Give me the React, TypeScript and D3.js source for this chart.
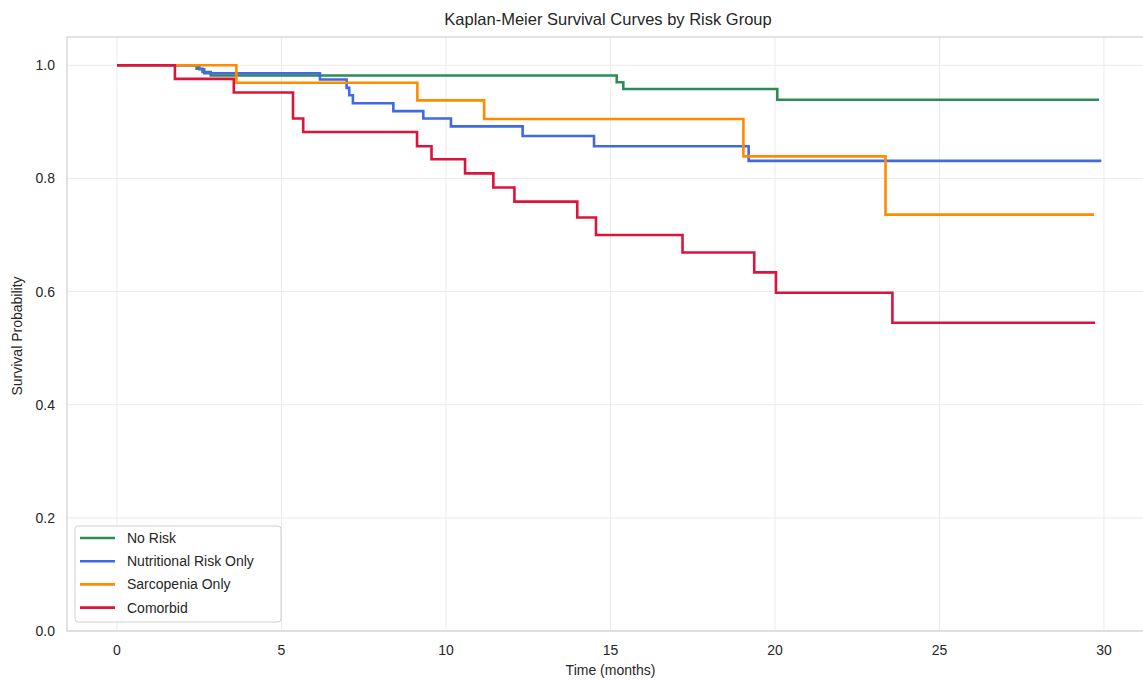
import { useEffect, useRef } from 'react'
import * as d3 from 'd3'

// Kaplan-Meier step data (time in months, survival probability)
const groupNames = ['No Risk', 'Nutritional Risk Only', 'Sarcopenia Only', 'Comorbid']
const groupColors = ['#2E8B57', '#4169E1', '#FF8C00', '#DC143C']

const noRiskTimes = [0, 2.42, 2.6, 2.85, 15.19, 15.39, 20.07, 29.85]
const noRiskSurv = [1, 0.994, 0.988, 0.982, 0.970, 0.958, 0.939, 0.939]

const nutritionalTimes = [0, 2.5, 2.65, 6.17, 6.98, 7.06, 7.17, 8.4, 9.31, 10.15, 12.33, 14.5, 19.2, 29.92]
const nutritionalSurv = [1, 0.993, 0.986, 0.975, 0.960, 0.947, 0.933, 0.919, 0.906, 0.892, 0.875, 0.857, 0.831, 0.831]

const sarcopeniaTimes = [0, 3.63, 9.13, 11.16, 19.04, 23.36, 29.7]
const sarcopeniaSurv = [1, 0.969, 0.938, 0.905, 0.839, 0.736, 0.736]

const comorbidTimes = [0, 1.76, 3.55, 5.35, 5.66, 9.12, 9.56, 10.58, 11.44, 12.08, 13.99, 14.56, 17.19, 19.37, 20.03, 23.57, 29.73]
const comorbidSurv = [1, 0.976, 0.952, 0.906, 0.882, 0.857, 0.834, 0.809, 0.784, 0.759, 0.731, 0.700, 0.669, 0.634, 0.598, 0.545, 0.545]

const xTicks = [0, 5, 10, 15, 20, 25, 30]
const yTicks = [0, 0.2, 0.4, 0.6, 0.8, 1.0]

const WIDTH = 1143
const HEIGHT = 682
const FONT = "'Liberation Sans', Arial, sans-serif"

export default function App() {
  const svgRef = useRef<SVGSVGElement>(null)

  useEffect(() => {
    if (!svgRef.current) return
    const svg = d3.select(svgRef.current)
    svg.selectAll('*').remove()

    const left = 67
    const top = 37
    const bottom = 631
    const right = 1150

    const x = d3.scaleLinear().domain([-1.52, 31.4]).range([left, right])
    const y = d3.scaleLinear().domain([0, 1.05]).range([bottom, top])

    svg.append('rect').attr('width', WIDTH).attr('height', HEIGHT).attr('fill', '#fff')

    // grid
    const grid = svg.append('g')
    grid.selectAll('.gx')
      .data(xTicks)
      .enter()
      .append('line')
      .attr('x1', d => x(d))
      .attr('x2', d => x(d))
      .attr('y1', top)
      .attr('y2', bottom)
      .attr('stroke', '#ebebeb')
      .attr('stroke-width', 1)
    grid.selectAll('.gy')
      .data(yTicks)
      .enter()
      .append('line')
      .attr('x1', left)
      .attr('x2', right)
      .attr('y1', d => y(d))
      .attr('y2', d => y(d))
      .attr('stroke', '#ebebeb')
      .attr('stroke-width', 1)

    // frame
    svg.append('rect')
      .attr('x', left)
      .attr('y', top)
      .attr('width', right - left)
      .attr('height', bottom - top)
      .attr('fill', 'none')
      .attr('stroke', '#d6d6d6')
      .attr('stroke-width', 1.4)

    // curves
    const series = [
      { t: noRiskTimes, s: noRiskSurv },
      { t: nutritionalTimes, s: nutritionalSurv },
      { t: sarcopeniaTimes, s: sarcopeniaSurv },
      { t: comorbidTimes, s: comorbidSurv },
    ]
    const line = d3.line<[number, number]>()
      .x(d => x(d[0]))
      .y(d => y(d[1]))
      .curve(d3.curveStepAfter)

    series.forEach((g, i) => {
      const pts = g.t.map((t, j) => [t, g.s[j]] as [number, number])
      svg.append('path')
        .attr('d', line(pts) || '')
        .attr('fill', 'none')
        .attr('stroke', groupColors[i])
        .attr('stroke-width', 2.6)
    })

    // tick labels
    svg.append('g')
      .selectAll('text')
      .data(xTicks)
      .enter()
      .append('text')
      .attr('x', d => x(d))
      .attr('y', 655)
      .attr('text-anchor', 'middle')
      .attr('font-family', FONT)
      .attr('font-size', 14)
      .attr('fill', '#262626')
      .text(d => d)

    svg.append('g')
      .selectAll('text')
      .data(yTicks)
      .enter()
      .append('text')
      .attr('x', 55)
      .attr('y', d => y(d) + 5)
      .attr('text-anchor', 'end')
      .attr('font-family', FONT)
      .attr('font-size', 14)
      .attr('fill', '#262626')
      .text(d => d3.format('.1f')(d))

    // axis labels
    svg.append('text')
      .attr('x', x(15))
      .attr('y', 675)
      .attr('text-anchor', 'middle')
      .attr('font-family', FONT)
      .attr('font-size', 14)
      .attr('fill', '#262626')
      .text('Time (months)')

    svg.append('text')
      .attr('transform', `translate(22,${(top + bottom) / 2 + 2}) rotate(-90)`)
      .attr('text-anchor', 'middle')
      .attr('font-family', FONT)
      .attr('font-size', 14)
      .attr('fill', '#262626')
      .text('Survival Probability')

    // title
    svg.append('text')
      .attr('x', 608)
      .attr('y', 25)
      .attr('text-anchor', 'middle')
      .attr('font-family', FONT)
      .attr('font-size', 16.5)
      .attr('fill', '#262626')
      .text('Kaplan-Meier Survival Curves by Risk Group')

    // legend
    const lg = svg.append('g').attr('transform', 'translate(75,526)')
    lg.append('rect')
      .attr('width', 206)
      .attr('height', 96)
      .attr('rx', 3)
      .attr('fill', 'rgba(255,255,255,0.85)')
      .attr('stroke', '#d0d0d0')
      .attr('stroke-width', 1)
    groupNames.forEach((name, i) => {
      const yy = 12 + i * 23.2
      lg.append('line')
        .attr('x1', 5)
        .attr('x2', 40)
        .attr('y1', yy)
        .attr('y2', yy)
        .attr('stroke', groupColors[i])
        .attr('stroke-width', 2.6)
      lg.append('text')
        .attr('x', 52)
        .attr('y', yy + 5)
        .attr('font-family', FONT)
        .attr('font-size', 14)
        .attr('fill', '#262626')
        .text(name)
    })
  }, [])

  return (
    <svg
      ref={svgRef}
      width={WIDTH}
      height={HEIGHT}
      style={{ position: 'absolute', left: 0, top: 0, display: 'block' }}
    />
  )
}
